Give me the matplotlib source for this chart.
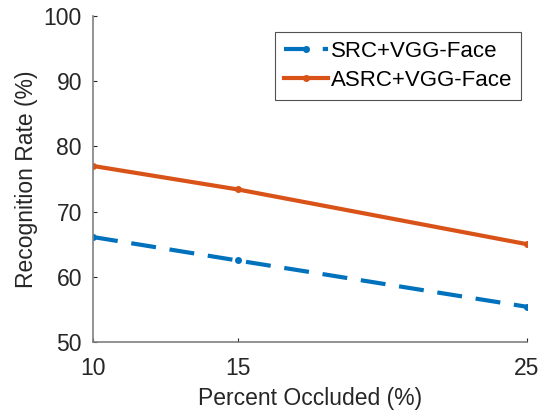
import matplotlib
matplotlib.use("Agg")
import matplotlib.pyplot as plt

plt.rcParams['font.family'] = ['Liberation Sans', 'DejaVu Sans']

occluded = [10, 15, 25]
src_vgg = [66.1, 62.5, 55.4]
asrc_vgg = [77.0, 73.4, 65.0]

fig = plt.figure(figsize=(5.45, 4.20), dpi=100)
ax = fig.add_axes([93 / 545, 1 - 342 / 420, 434 / 545, 326 / 420])

ax.plot(occluded, src_vgg, '--', color='#0072BD', lw=3, marker='.', ms=8,
        dashes=(6, 3.3), label='SRC+VGG-Face')
ax.plot(occluded, asrc_vgg, '-', color='#D95319', lw=3, marker='.', ms=8,
        label='ASRC+VGG-Face')

ax.set_xlim(10, 25)
ax.set_ylim(50, 100)
ax.set_xticks(occluded)
ax.set_yticks(range(50, 101, 10))
ax.set_xlabel('Percent Occluded (%)', fontsize=16.5, color='#262626', labelpad=5)
ax.set_ylabel('Recognition Rate (%)', fontsize=16.5, color='#262626', labelpad=4)
ax.tick_params(labelsize=16.5, colors='#262626', direction='in', length=3, width=0.8)
ax.tick_params(axis='x', pad=11)
ax.tick_params(axis='y', pad=8)
for side in ['top', 'right']:
    ax.spines[side].set_visible(False)
for side in ['left', 'bottom']:
    ax.spines[side].set_color('#808080')
    ax.spines[side].set_linewidth(1.2)

leg = ax.legend(loc='upper right', bbox_to_anchor=(0.986, 0.951), fontsize=16,
                fancybox=False, edgecolor='#262626', handlelength=2.0,
                handletextpad=0.1, borderpad=0.4, labelspacing=0.35,
                borderaxespad=0)
leg.get_frame().set_linewidth(0.8)

fig.savefig('out.png', dpi=100)
